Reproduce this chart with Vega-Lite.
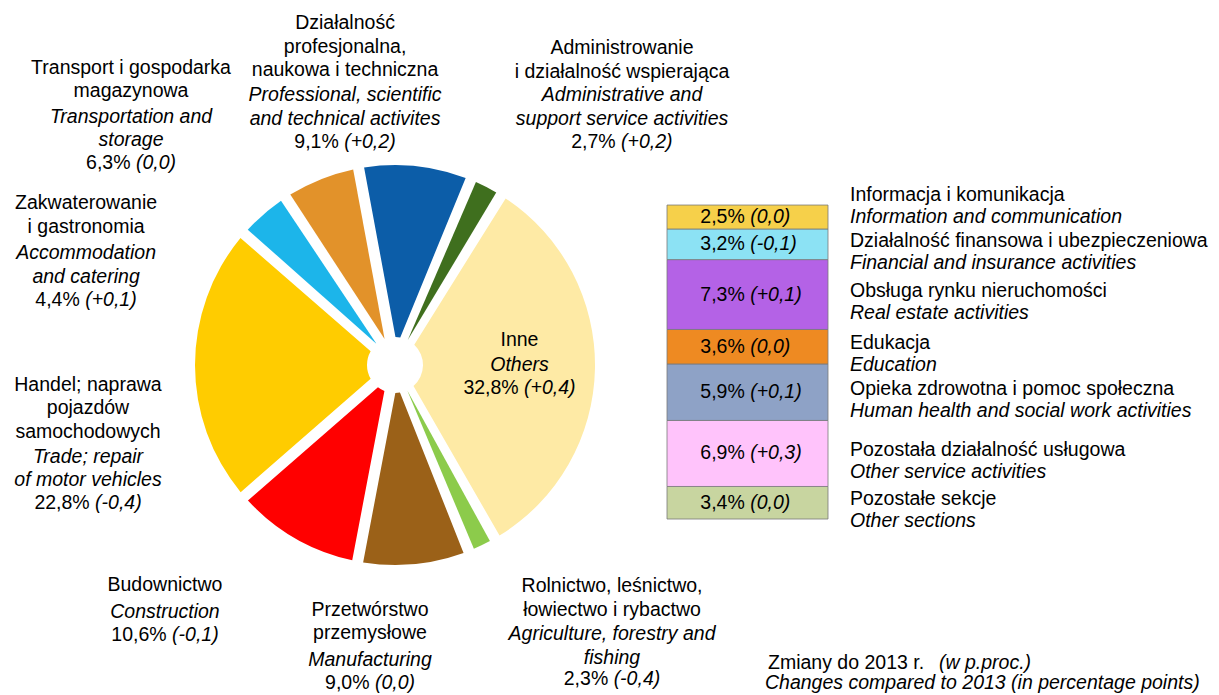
{
  "$schema": "https://vega.github.io/schema/vega-lite/v6.json",
  "width": 790,
  "height": 730,
  "padding": {"left": 0, "top": 0, "right": 429, "bottom": 0},
  "autosize": {"type": "none"},
  "background": "white",
  "config": {
    "view": {"stroke": null},
    "locale": {"number": {"decimal": ",", "thousands": " ", "grouping": [3], "currency": ["", "%"]}},
    "text": {"font": "Liberation Sans", "fontSize": 19.5, "lineHeight": 23.5, "lineBreak": "\n", "baseline": "middle", "color": "#000000"}
  },
  "datasets": {
    "pie": [
      {"sector": "Others", "pl": "Inne", "en": "Others", "share": 32.8, "change": "(+0,4)", "ord": 1},
      {"sector": "Agriculture", "pl": "Rolnictwo, leśnictwo,\nłowiectwo i rybactwo", "en": "Agriculture, forestry and\nfishing", "share": 2.3, "change": "(-0,4)", "ord": 2},
      {"sector": "Manufacturing", "pl": "Przetwórstwo\nprzemysłowe", "en": "Manufacturing", "share": 9.0, "change": "(0,0)", "ord": 3},
      {"sector": "Construction", "pl": "Budownictwo", "en": "Construction", "share": 10.6, "change": "(-0,1)", "ord": 4},
      {"sector": "Trade", "pl": "Handel; naprawa\npojazdów\nsamochodowych", "en": "Trade; repair\nof motor vehicles", "share": 22.8, "change": "(-0,4)", "ord": 5},
      {"sector": "Accommodation", "pl": "Zakwaterowanie\ni gastronomia", "en": "Accommodation\nand catering", "share": 4.4, "change": "(+0,1)", "ord": 6},
      {"sector": "Transport", "pl": "Transport i gospodarka\nmagazynowa", "en": "Transportation and\nstorage", "share": 6.3, "change": "(0,0)", "ord": 7},
      {"sector": "Professional", "pl": "Działalność\nprofesjonalna,\nnaukowa i techniczna", "en": "Professional, scientific\nand technical activites", "share": 9.1, "change": "(+0,2)", "ord": 8},
      {"sector": "Administrative", "pl": "Administrowanie\ni działalność wspierająca", "en": "Administrative and\nsupport service activities", "share": 2.7, "change": "(+0,2)", "ord": 9}
    ],
    "others": [
      {"sector": "Other sections", "group": "Inne", "pl": "Pozostałe sekcje", "en": "Other sections", "share": 3.4, "change": "(0,0)", "ord": 1},
      {"sector": "Other service", "group": "Inne", "pl": "Pozostała działalność usługowa", "en": "Other service activities", "share": 6.9, "change": "(+0,3)", "ord": 2},
      {"sector": "Health", "group": "Inne", "pl": "Opieka zdrowotna i pomoc społeczna", "en": "Human health and social work activities", "share": 5.9, "change": "(+0,1)", "ord": 3},
      {"sector": "Education", "group": "Inne", "pl": "Edukacja", "en": "Education", "share": 3.6, "change": "(0,0)", "ord": 4},
      {"sector": "Real estate", "group": "Inne", "pl": "Obsługa rynku nieruchomości", "en": "Real estate activities", "share": 7.3, "change": "(+0,1)", "ord": 5},
      {"sector": "Financial", "group": "Inne", "pl": "Działalność finansowa i ubezpieczeniowa", "en": "Financial and insurance activities", "share": 3.2, "change": "(-0,1)", "ord": 6},
      {"sector": "Information", "group": "Inne", "pl": "Informacja i komunikacja", "en": "Information and communication", "share": 2.5, "change": "(0,0)", "ord": 7}
    ]
  },
  "layer": [
    {
      "data": {"name": "pie"},
      "encoding": {
        "theta": {"field": "share", "type": "quantitative", "stack": true, "scale": {"range": [0.5585, 6.8417]}},
        "order": {"field": "ord", "type": "quantitative", "sort": "ascending"}
      },
      "layer": [
        {"mark": {"type": "arc", "outerRadius": 200, "innerRadius": 28, "padAngle": 0.055},
         "encoding": {"color": {"field": "sector", "type": "nominal", "legend": null,
           "scale": {"domain": ["Others", "Agriculture", "Manufacturing", "Construction", "Trade", "Accommodation", "Transport", "Professional", "Administrative"],
                     "range": ["#FEEAA5", "#8CCB4B", "#9B6118", "#FF0000", "#FFCC00", "#1CB5EA", "#E2922A", "#0C5DA8", "#3F6F1E"]}}}},

        {"mark": {"type": "text", "radius": 230, "dx": -73.6, "dy": -113.2}, "encoding": {"text": {"condition": {"test": "datum.sector==='Professional'", "field": "pl", "type": "nominal"}, "value": ""}}},
        {"mark": {"type": "text", "radius": 230, "dx": -73.6, "dy": -41.2, "fontStyle": "italic"}, "encoding": {"text": {"condition": {"test": "datum.sector==='Professional'", "field": "en", "type": "nominal"}, "value": ""}}},
        {"mark": {"type": "text", "radius": 230, "dx": -79.9, "dy": 5.8, "align": "right"}, "encoding": {"text": {"condition": {"test": "datum.sector==='Professional'", "field": "share", "type": "quantitative", "format": "$.1f"}, "value": ""}}},
        {"mark": {"type": "text", "radius": 230, "dx": -74.5, "dy": 5.8, "align": "left", "fontStyle": "italic"}, "encoding": {"text": {"condition": {"test": "datum.sector==='Professional'", "field": "change", "type": "nominal"}, "value": ""}}},

        {"mark": {"type": "text", "radius": 230, "dx": 122.1, "dy": -112.3}, "encoding": {"text": {"condition": {"test": "datum.sector==='Administrative'", "field": "pl", "type": "nominal"}, "value": ""}}},
        {"mark": {"type": "text", "radius": 230, "dx": 122.1, "dy": -65.3, "fontStyle": "italic"}, "encoding": {"text": {"condition": {"test": "datum.sector==='Administrative'", "field": "en", "type": "nominal"}, "value": ""}}},
        {"mark": {"type": "text", "radius": 230, "dx": 115.8, "dy": -18.8, "align": "right"}, "encoding": {"text": {"condition": {"test": "datum.sector==='Administrative'", "field": "share", "type": "quantitative", "format": "$.1f"}, "value": ""}}},
        {"mark": {"type": "text", "radius": 230, "dx": 121.2, "dy": -18.8, "align": "left", "fontStyle": "italic"}, "encoding": {"text": {"condition": {"test": "datum.sector==='Administrative'", "field": "change", "type": "nominal"}, "value": ""}}},

        {"mark": {"type": "text", "radius": 230, "dx": -178.5, "dy": -83.5}, "encoding": {"text": {"condition": {"test": "datum.sector==='Transport'", "field": "pl", "type": "nominal"}, "value": ""}}},
        {"mark": {"type": "text", "radius": 230, "dx": -178.5, "dy": -34.5, "fontStyle": "italic"}, "encoding": {"text": {"condition": {"test": "datum.sector==='Transport'", "field": "en", "type": "nominal"}, "value": ""}}},
        {"mark": {"type": "text", "radius": 230, "dx": -179.0, "dy": 11.5, "align": "right"}, "encoding": {"text": {"condition": {"test": "datum.sector==='Transport'", "field": "share", "type": "quantitative", "format": "$.1f"}, "value": ""}}},
        {"mark": {"type": "text", "radius": 230, "dx": -173.6, "dy": 11.5, "align": "left", "fontStyle": "italic"}, "encoding": {"text": {"condition": {"test": "datum.sector==='Transport'", "field": "change", "type": "nominal"}, "value": ""}}},

        {"mark": {"type": "text", "radius": 230, "dx": -157.8, "dy": 11.4}, "encoding": {"text": {"condition": {"test": "datum.sector==='Accommodation'", "field": "pl", "type": "nominal"}, "value": ""}}},
        {"mark": {"type": "text", "radius": 230, "dx": -157.8, "dy": 61.4, "fontStyle": "italic"}, "encoding": {"text": {"condition": {"test": "datum.sector==='Accommodation'", "field": "en", "type": "nominal"}, "value": ""}}},
        {"mark": {"type": "text", "radius": 230, "dx": -164.1, "dy": 108.4, "align": "right"}, "encoding": {"text": {"condition": {"test": "datum.sector==='Accommodation'", "field": "share", "type": "quantitative", "format": "$.1f"}, "value": ""}}},
        {"mark": {"type": "text", "radius": 230, "dx": -158.7, "dy": 108.4, "align": "left", "fontStyle": "italic"}, "encoding": {"text": {"condition": {"test": "datum.sector==='Accommodation'", "field": "change", "type": "nominal"}, "value": ""}}},

        {"mark": {"type": "text", "radius": 230, "dx": -77, "dy": 19.8}, "encoding": {"text": {"condition": {"test": "datum.sector==='Trade'", "field": "pl", "type": "nominal"}, "value": ""}}},
        {"mark": {"type": "text", "radius": 230, "dx": -77, "dy": 91.8, "fontStyle": "italic"}, "encoding": {"text": {"condition": {"test": "datum.sector==='Trade'", "field": "en", "type": "nominal"}, "value": ""}}},
        {"mark": {"type": "text", "radius": 230, "dx": -75.3, "dy": 137.8, "align": "right"}, "encoding": {"text": {"condition": {"test": "datum.sector==='Trade'", "field": "share", "type": "quantitative", "format": "$.1f"}, "value": ""}}},
        {"mark": {"type": "text", "radius": 230, "dx": -69.9, "dy": 137.8, "align": "left", "fontStyle": "italic"}, "encoding": {"text": {"condition": {"test": "datum.sector==='Trade'", "field": "change", "type": "nominal"}, "value": ""}}},

        {"mark": {"type": "text", "radius": 230, "dx": -115.6, "dy": 20.5}, "encoding": {"text": {"condition": {"test": "datum.sector==='Construction'", "field": "pl", "type": "nominal"}, "value": ""}}},
        {"mark": {"type": "text", "radius": 230, "dx": -115.6, "dy": 47.5, "fontStyle": "italic"}, "encoding": {"text": {"condition": {"test": "datum.sector==='Construction'", "field": "en", "type": "nominal"}, "value": ""}}},
        {"mark": {"type": "text", "radius": 230, "dx": -113.9, "dy": 70.5, "align": "right"}, "encoding": {"text": {"condition": {"test": "datum.sector==='Construction'", "field": "share", "type": "quantitative", "format": "$.1f"}, "value": ""}}},
        {"mark": {"type": "text", "radius": 230, "dx": -108.5, "dy": 70.5, "align": "left", "fontStyle": "italic"}, "encoding": {"text": {"condition": {"test": "datum.sector==='Construction'", "field": "change", "type": "nominal"}, "value": ""}}},

        {"mark": {"type": "text", "radius": 230, "dx": -46.8, "dy": 16}, "encoding": {"text": {"condition": {"test": "datum.sector==='Manufacturing'", "field": "pl", "type": "nominal"}, "value": ""}}},
        {"mark": {"type": "text", "radius": 230, "dx": -46.8, "dy": 66, "fontStyle": "italic"}, "encoding": {"text": {"condition": {"test": "datum.sector==='Manufacturing'", "field": "en", "type": "nominal"}, "value": ""}}},
        {"mark": {"type": "text", "radius": 230, "dx": -47.3, "dy": 89, "align": "right"}, "encoding": {"text": {"condition": {"test": "datum.sector==='Manufacturing'", "field": "share", "type": "quantitative", "format": "$.1f"}, "value": ""}}},
        {"mark": {"type": "text", "radius": 230, "dx": -41.9, "dy": 89, "align": "left", "fontStyle": "italic"}, "encoding": {"text": {"condition": {"test": "datum.sector==='Manufacturing'", "field": "change", "type": "nominal"}, "value": ""}}},

        {"mark": {"type": "text", "radius": 230, "dx": 117, "dy": 13.9}, "encoding": {"text": {"condition": {"test": "datum.sector==='Agriculture'", "field": "pl", "type": "nominal"}, "value": ""}}},
        {"mark": {"type": "text", "radius": 230, "dx": 117, "dy": 61.9, "fontStyle": "italic"}, "encoding": {"text": {"condition": {"test": "datum.sector==='Agriculture'", "field": "en", "type": "nominal"}, "value": ""}}},
        {"mark": {"type": "text", "radius": 230, "dx": 113.2, "dy": 106.9, "align": "right"}, "encoding": {"text": {"condition": {"test": "datum.sector==='Agriculture'", "field": "share", "type": "quantitative", "format": "$.1f"}, "value": ""}}},
        {"mark": {"type": "text", "radius": 230, "dx": 118.6, "dy": 106.9, "align": "left", "fontStyle": "italic"}, "encoding": {"text": {"condition": {"test": "datum.sector==='Agriculture'", "field": "change", "type": "nominal"}, "value": ""}}},

        {"mark": {"type": "text", "radius": 125, "dx": -0.5, "dy": -27.3}, "encoding": {"text": {"condition": {"test": "datum.sector==='Others'", "field": "pl", "type": "nominal"}, "value": ""}}},
        {"mark": {"type": "text", "radius": 125, "dx": -0.5, "dy": -2.3, "fontStyle": "italic"}, "encoding": {"text": {"condition": {"test": "datum.sector==='Others'", "field": "en", "type": "nominal"}, "value": ""}}},
        {"mark": {"type": "text", "radius": 125, "dx": -1.3, "dy": 20.7, "align": "right"}, "encoding": {"text": {"condition": {"test": "datum.sector==='Others'", "field": "share", "type": "quantitative", "format": "$.1f"}, "value": ""}}},
        {"mark": {"type": "text", "radius": 125, "dx": 4.1, "dy": 20.7, "align": "left", "fontStyle": "italic"}, "encoding": {"text": {"condition": {"test": "datum.sector==='Others'", "field": "change", "type": "nominal"}, "value": ""}}}
      ]
    },
    {
      "data": {"name": "others"},
      "encoding": {
        "x": {"field": "group", "type": "nominal", "axis": null, "scale": {"range": [667, 828], "paddingInner": 0, "paddingOuter": 0}},
        "order": {"field": "ord", "type": "quantitative", "sort": "ascending"}
      },
      "layer": [
        {"mark": {"type": "bar", "stroke": "#7a7a7a", "strokeWidth": 0.8},
         "encoding": {
           "y": {"field": "share", "type": "quantitative", "stack": true, "axis": null, "scale": {"domain": [-22.04, 54.22], "nice": false, "zero": false}},
           "fill": {"field": "sector", "type": "nominal", "legend": null,
             "scale": {"domain": ["Other sections", "Other service", "Health", "Education", "Real estate", "Financial", "Information"],
                       "range": ["#C8D5A0", "#FFC3FB", "#8EA2C6", "#EE8A22", "#B462E6", "#8CE2F4", "#F6D04A"]}}}},
        {"mark": {"type": "text", "align": "right", "dx": -2.7},
         "encoding": {
           "y": {"field": "share", "type": "quantitative", "stack": true, "bandPosition": 0.5, "axis": null},
           "text": {"field": "share", "type": "quantitative", "format": "$.1f"}}},
        {"mark": {"type": "text", "align": "left", "dx": 2.7, "fontStyle": "italic"},
         "encoding": {
           "y": {"field": "share", "type": "quantitative", "stack": true, "bandPosition": 0.5, "axis": null},
           "text": {"field": "change", "type": "nominal"}}},
        {"mark": {"type": "text", "align": "left", "dx": 102.5, "dy": -3.5},
         "encoding": {
           "y": {"field": "share", "type": "quantitative", "stack": true, "bandPosition": 0.5, "axis": null},
           "text": {"condition": {"test": "datum.sector!=='Information'", "field": "pl", "type": "nominal"}, "value": ""}}},
        {"mark": {"type": "text", "align": "left", "dx": 102.5, "dy": 18.5, "fontStyle": "italic"},
         "encoding": {
           "y": {"field": "share", "type": "quantitative", "stack": true, "bandPosition": 0.5, "axis": null},
           "text": {"condition": {"test": "datum.sector!=='Information'", "field": "en", "type": "nominal"}, "value": ""}}},
        {"mark": {"type": "text", "align": "left", "dx": 102.5, "dy": -22},
         "encoding": {
           "y": {"field": "share", "type": "quantitative", "stack": true, "bandPosition": 0.5, "axis": null},
           "text": {"condition": {"test": "datum.sector==='Information'", "field": "pl", "type": "nominal"}, "value": ""}}},
        {"mark": {"type": "text", "align": "left", "dx": 102.5, "dy": 0, "fontStyle": "italic"},
         "encoding": {
           "y": {"field": "share", "type": "quantitative", "stack": true, "bandPosition": 0.5, "axis": null},
           "text": {"condition": {"test": "datum.sector==='Information'", "field": "en", "type": "nominal"}, "value": ""}}}
      ]
    },
    {
      "data": {"values": [{"zm": "Zmiany do  2013 r.", "unit": "(w p.proc.)", "ch": "Changes compared to 2013 (in percentage points)"}]},
      "encoding": {
        "x": {"datum": "Inne", "type": "nominal", "axis": null},
        "y": {"datum": 0, "type": "quantitative", "axis": null}
      },
      "layer": [
        {"mark": {"type": "text", "align": "left", "dx": 20.5, "dy": 144}, "encoding": {"text": {"field": "zm", "type": "nominal"}}},
        {"mark": {"type": "text", "align": "left", "dx": 191.5, "dy": 144, "fontStyle": "italic"}, "encoding": {"text": {"field": "unit", "type": "nominal"}}},
        {"mark": {"type": "text", "align": "left", "dx": 17.5, "dy": 164, "fontStyle": "italic"}, "encoding": {"text": {"field": "ch", "type": "nominal"}}}
      ]
    }
  ]
}
